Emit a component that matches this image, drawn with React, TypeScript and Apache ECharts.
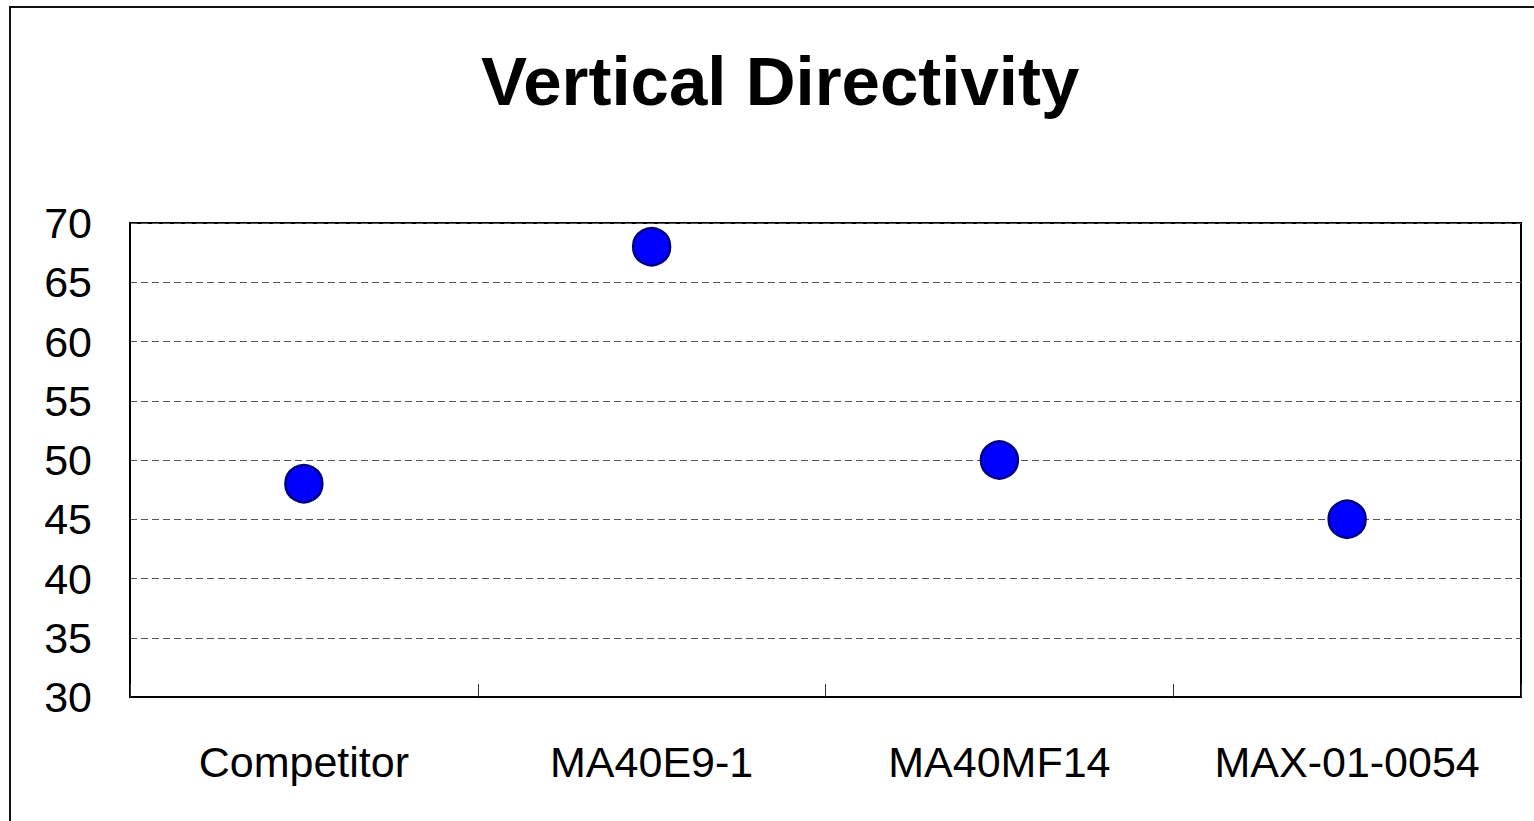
import React, { useEffect, useRef } from "react";
import * as echarts from "echarts";

const categories = ["Competitor", "MA40E9-1", "MA40MF14", "MAX-01-0054"];
const values = [48, 68, 50, 45];
const yMin = 30;
const yMax = 70;
const yStep = 5;
const titleText = "Vertical Directivity";

export default function App() {
  const ref = useRef<HTMLDivElement>(null);
  useEffect(() => {
    if (!ref.current) return;
    const chart = echarts.init(ref.current, null, { renderer: "svg" });
    chart.setOption({
      animation: false,
      backgroundColor: "#ffffff",
      title: {
        text: titleText,
        left: 476,
        top: 42,
        textStyle: {
          fontFamily: "Liberation Sans, Arial, sans-serif",
          fontWeight: "bold",
          fontSize: 69,
          color: "#000",
        },
      },
      graphic: [
        {
          type: "rect",
          shape: { x: 10, y: 7, width: 1540, height: 830 },
          style: { fill: "none", stroke: "#111", lineWidth: 2 },
          silent: true,
        },
      ],
      grid: {
        left: 130,
        right: 13,
        top: 223,
        bottom: 124,
        show: true,
        borderColor: "#000",
        borderWidth: 2,
        containLabel: false,
      },
      xAxis: {
        type: "category",
        data: categories,
        boundaryGap: true,
        axisLine: { show: true, lineStyle: { color: "#000", width: 2 } },
        axisTick: {
          show: true,
          inside: true,
          length: 13,
          alignWithLabel: false,
          lineStyle: { color: "#333", width: 1 },
        },
        axisLabel: {
          margin: 43,
          fontFamily: "Liberation Sans, Arial, sans-serif",
          fontSize: 43,
          color: "#000",
        },
        splitLine: { show: false },
      },
      yAxis: {
        type: "value",
        min: yMin,
        max: yMax,
        interval: yStep,
        axisLine: { show: true, lineStyle: { color: "#000", width: 2 } },
        axisTick: { show: false },
        axisLabel: {
          margin: 38,
          fontFamily: "Liberation Sans, Arial, sans-serif",
          fontSize: 43,
          color: "#000",
        },
        splitLine: {
          show: true,
          lineStyle: { color: "#555", width: 1, type: [7, 4] },
        },
      },
      series: [
        {
          type: "scatter",
          data: values,
          symbol: "circle",
          symbolSize: 37,
          itemStyle: { color: "#0000ff", borderColor: "#000080", borderWidth: 2.5, opacity: 1 },
        },
      ],
    });
    return () => chart.dispose();
  }, []);
  return (
    <div
      ref={ref}
      style={{ position: "absolute", left: 0, top: 0, width: 1534, height: 821 }}
    />
  );
}
